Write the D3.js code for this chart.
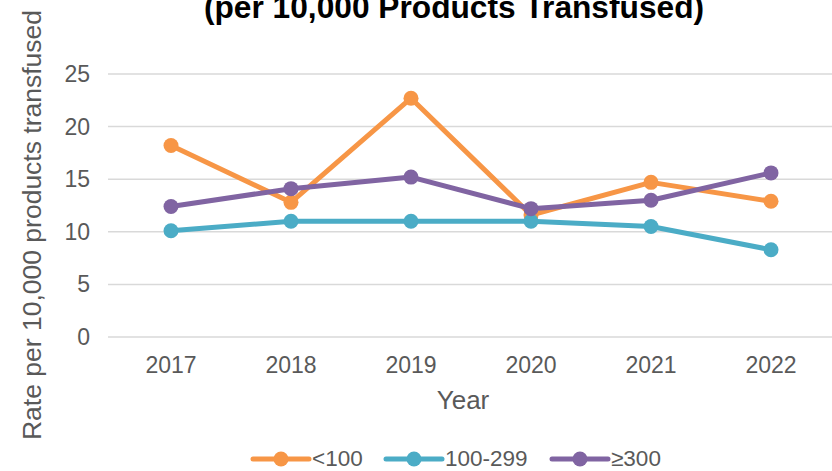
<!DOCTYPE html>
<html>
<head>
<meta charset="utf-8">
<script src="https://cdn.jsdelivr.net/npm/d3@7"></script>
<style>
  body { margin: 0; background: #fff; }
  svg { font-family: "Liberation Sans", Arial, sans-serif; }
</style>
</head>
<body>
<script>
const years = ["2017", "2018", "2019", "2020", "2021", "2022"];
const under100 = [18.2, 12.8, 22.7, 11.6, 14.7, 12.9];
const mid100to299 = [10.1, 11.0, 11.0, 11.0, 10.5, 8.3];
const over300 = [12.4, 14.1, 15.2, 12.2, 13.0, 15.6];
const seriesNames = ["<100", "100-299", "\u2265300"];
const yTicks = [0, 5, 10, 15, 20, 25];

const width = 832;
const height = 471;
const colors = ["#F79646", "#4BACC6", "#8064A2"];
const series = [under100, mid100to299, over300];

const svg = d3.select("body").append("svg")
  .attr("width", width)
  .attr("height", height);

// scales
const x = d3.scaleBand().domain(years).range([111, 831]);
const y = d3.scaleLinear().domain([0, 25]).range([337, 74]);

// gridlines
svg.selectAll(".grid")
  .data(yTicks)
  .enter()
  .append("line")
  .attr("x1", 108)
  .attr("x2", width)
  .attr("y1", d => y(d))
  .attr("y2", d => y(d))
  .attr("stroke", "#D9D9D9")
  .attr("stroke-width", 1.5);

// y tick labels
svg.selectAll(".ytick")
  .data(yTicks)
  .enter()
  .append("text")
  .attr("x", 90)
  .attr("y", d => y(d) + 8)
  .attr("text-anchor", "end")
  .attr("font-size", "23px")
  .attr("fill", "#595959")
  .text(d => d);

// x tick labels
svg.selectAll(".xtick")
  .data(years)
  .enter()
  .append("text")
  .attr("x", d => x(d) + x.bandwidth() / 2)
  .attr("y", 373)
  .attr("text-anchor", "middle")
  .attr("font-size", "23px")
  .attr("fill", "#595959")
  .text(d => d);

// axis titles
svg.append("text")
  .attr("x", 463)
  .attr("y", 409)
  .attr("text-anchor", "middle")
  .attr("font-size", "26px")
  .attr("fill", "#595959")
  .text("Year");

svg.append("text")
  .attr("transform", "translate(41,225) rotate(-90)")
  .attr("text-anchor", "middle")
  .attr("font-size", "26.5px")
  .attr("fill", "#595959")
  .text("Rate per 10,000 products transfused");

// title (partially cut off at the top, as in the source)
svg.append("text")
  .attr("x", 454)
  .attr("y", 18)
  .attr("text-anchor", "middle")
  .attr("font-size", "31.7px")
  .attr("font-weight", "bold")
  .attr("fill", "#000")
  .text("(per 10,000 Products Transfused)");

// lines and markers
const line = d3.line()
  .x((d, i) => x(years[i]) + x.bandwidth() / 2)
  .y(d => y(d));

series.forEach((vals, s) => {
  svg.append("path")
    .datum(vals)
    .attr("fill", "none")
    .attr("stroke", colors[s])
    .attr("stroke-width", 5)
    .attr("stroke-linejoin", "round")
    .attr("d", line);

  svg.selectAll(".pt" + s)
    .data(vals)
    .enter()
    .append("circle")
    .attr("cx", (d, i) => x(years[i]) + x.bandwidth() / 2)
    .attr("cy", d => y(d))
    .attr("r", 7.5)
    .attr("fill", colors[s]);
});

// legend
const legendX = [253, 386, 552];
seriesNames.forEach((name, s) => {
  const g = svg.append("g").attr("transform", `translate(${legendX[s]},459)`);
  g.append("line")
    .attr("x1", 0).attr("x2", 56)
    .attr("stroke", colors[s])
    .attr("stroke-width", 5)
    .attr("stroke-linecap", "round");
  g.append("circle")
    .attr("cx", 28)
    .attr("r", 7.5)
    .attr("fill", colors[s]);
  g.append("text")
    .attr("x", 59)
    .attr("y", 7)
    .attr("font-size", "22.5px")
    .attr("fill", "#595959")
    .text(name);
});
</script>
</body>
</html>
